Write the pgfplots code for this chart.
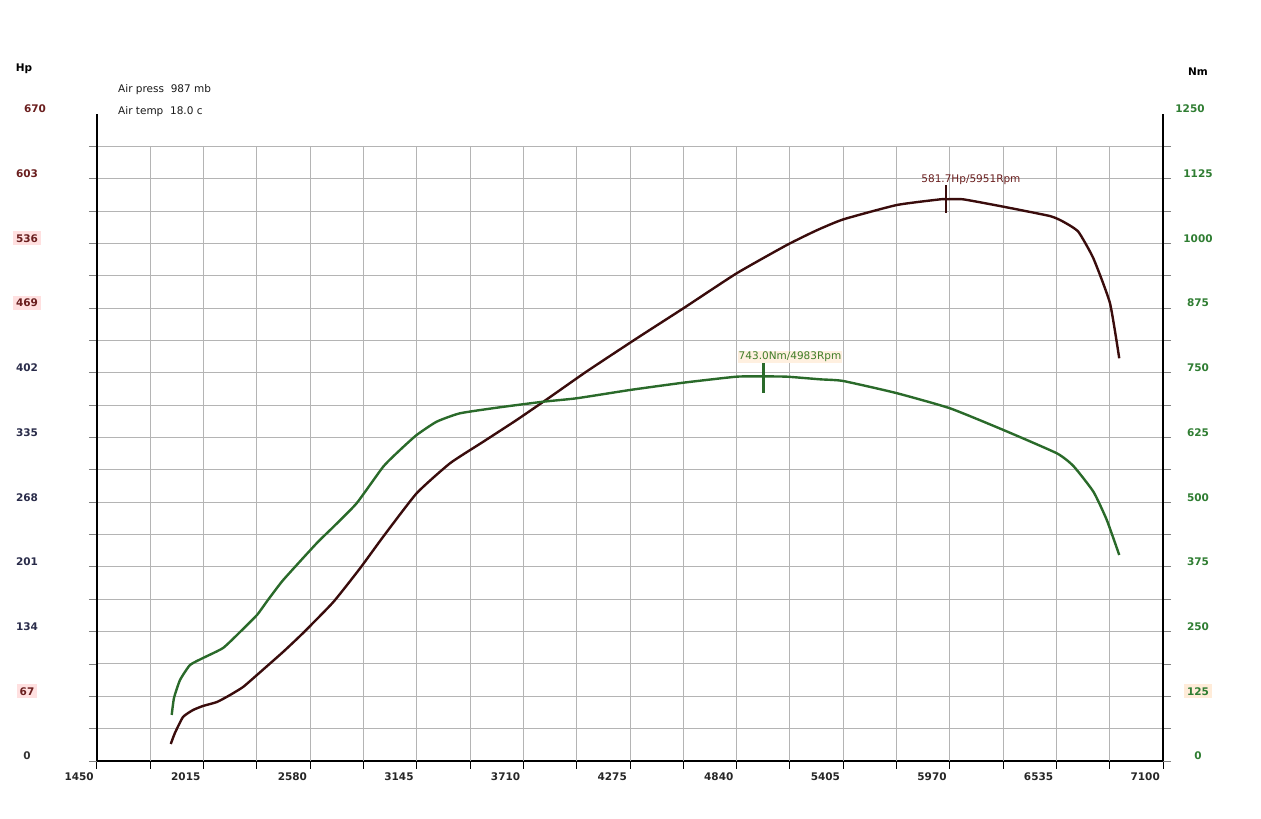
\documentclass[border=0pt]{standalone}
\usepackage{fontspec}
\setmainfont{DejaVu Sans}
\usepackage{pgfplots}
\pgfplotsset{compat=1.18}

\definecolor{hpline}{HTML}{3A0C0C}
\definecolor{hptext}{HTML}{6A1E1E}
\definecolor{navytext}{HTML}{2A2C4A}
\definecolor{nmline}{HTML}{2A6A2A}
\definecolor{nmtext}{HTML}{2F7D32}
\definecolor{gridc}{HTML}{B4B4B4}

% Hp curve (rpm, Hp)
\pgfplotstableread{
rpm hp
1841 17.6
1863 29.0
1906 45.6
1959 52.8
2012 57.0
2086 61.1
2155 68.3
2224 76.6
2298 89.1
2436 112.9
2542 132.5
2702 164.5
2844 199.5
2967 232.3
3144 277.2
3321 308.3
3497 330.6
3674 353.1
3842 375.6
4046 403.5
4311 437.7
4558 468.8
4840 505.0
5106 534.3
5264 549.5
5406 560.9
5688 575.7
5918 581.6
5951 581.7
6042 581.6
6254 574.0
6501 564.3
6572 558.4
6651 548.1
6731 520.5
6819 474.0
6868 417.0
}\hpdata

% torque curve (rpm, Nm)
\pgfplotstableread{
rpm nm
1846 88.9
1858 121.7
1890 156.5
1943 185.5
2012 199.0
2118 218.3
2208 249.2
2298 282.1
2356 311.1
2437 349.7
2614 420.6
2702 452.0
2826 497.9
2967 568.6
3056 600.9
3144 629.8
3250 655.5
3374 671.8
3586 683.4
3816 694.2
3993 700.8
4275 716.8
4558 730.9
4840 742.5
4983 743.0
5106 742.5
5282 737.4
5404 734.2
5685 711.0
5971 681.4
6254 639.5
6537 594.5
6625 569.9
6731 520.3
6802 465.6
6868 398.0
}\nmdata

\begin{document}
\begin{tikzpicture}[x=1pt,y=1pt]
\useasboundingbox (-97,-58) rectangle (1164,761);

\begin{axis}[
    at={(0,0)}, anchor=south west,
    scale only axis, width=1066pt, height=647pt,
    xmin=1450, xmax=7100, ymin=0, ymax=670,
    axis x line*=bottom, axis y line*=left,
    axis line style={line width=2.4pt, -},
    tick align=outside, major tick length=8pt,
    xtick={1450,1732.5,2015,2297.5,2580,2862.5,3145,3427.5,3710,3992.5,4275,4557.5,4840,5122.5,5405,5687.5,5970,6252.5,6535,6817.5,7100},
    xticklabels={1450,,2015,,2580,,3145,,3710,,4275,,4840,,5405,,5970,,6535,,7100},
    ytick={0,33.5,67,100.5,134,167.5,201,234.5,268,301.5,335,368.5,402,435.5,469,502.5,536,569.5,603,636.5},
    yticklabels={\textcolor{black!80}{0},,\colorbox{red!12}{\textcolor{hptext}{67}},,\textcolor{navytext}{134},,\textcolor{navytext}{201},,\textcolor{navytext}{268},,\textcolor{navytext}{335},,\textcolor{navytext}{402},,\colorbox{red!12}{\textcolor{hptext}{469}},,\colorbox{red!12}{\textcolor{hptext}{536}},,\textcolor{hptext}{603},},
    extra y ticks={670},
    extra y tick labels={\textcolor{hptext}{670}},
    extra y tick style={major tick length=0pt, grid=none},
    x tick style={black, line width=1pt},
    y tick style={gray, line width=0.8pt},
    ymajorgrids,
    major grid style={gridc, line width=0.9pt},
    ticklabel style={font=\bfseries\fontsize{10.5}{12}\selectfont, inner sep=0pt, fill=none},
    xticklabel style={anchor=east, xshift=-3pt, yshift=-8pt, text=black!85},
    yticklabel style={anchor=center, xshift=-62pt, yshift=5pt},
    clip=false,
]
\pgfplotsinvokeforeach{1732.5,2015,2297.5,2580,2862.5,3145,3427.5,3710,3992.5,4275,4557.5,4840,5122.5,5405,5687.5,5970,6252.5,6535,6817.5}{
  \draw[gridc, line width=0.9pt] (axis cs:#1,0) -- (axis cs:#1,636.5);
}
\addplot[hpline, line width=2.4pt, smooth, tension=0.3] table[x=rpm, y=hp] {\hpdata};
% peak marker
\addplot[hpline, line width=1.8pt] coordinates {(5951,567.5) (5951,596.4)};
\node[text=hptext, font=\fontsize{10.5}{12}\selectfont] at (axis cs:6082,601.6) {581.7Hp/5951Rpm};
\end{axis}

\begin{axis}[
    at={(0,0)}, anchor=south west,
    scale only axis, width=1066pt, height=647pt,
    xmin=1450, xmax=7100, ymin=0, ymax=1250,
    axis x line=none, axis y line*=right,
    axis line style={line width=2.4pt, -},
    tick align=outside, major tick length=8pt,
    ytick={0,62.5,125,187.5,250,312.5,375,437.5,500,562.5,625,687.5,750,812.5,875,937.5,1000,1062.5,1125,1187.5},
    yticklabels={0,,\colorbox{orange!15}{125},,250,,375,,500,,625,,750,,875,,1000,,1125,},
    extra y ticks={1250},
    extra y tick labels={1250},
    extra y tick style={major tick length=0pt},
    y tick style={gray, line width=0.8pt},
    ticklabel style={font=\bfseries\fontsize{10.5}{12}\selectfont, inner sep=0pt, text=nmtext},
    yticklabel style={anchor=center, xshift=27pt, yshift=5pt},
    clip=false,
]
\addplot[nmline, line width=2.4pt, smooth, tension=0.3] table[x=rpm, y=nm] {\nmdata};
% peak marker
\addplot[nmline, line width=2.4pt] coordinates {(4983,711.6) (4983,771.4)};
\node[text=nmtext!80!olive, fill=orange!12, inner sep=1pt, font=\fontsize{10.5}{12}\selectfont] at (axis cs:5123,780.5) {743.0Nm/4983Rpm};
\end{axis}

\node[font=\bfseries\fontsize{10.5}{12}\selectfont] at (-73,692) {Hp};
\node[font=\bfseries\fontsize{10.5}{12}\selectfont] at (1101,689) {Nm};
\node[anchor=west, inner sep=0pt, text=black!90, font=\fontsize{10.5}{12}\selectfont] at (21,671) {Air press\ \ 987 mb};
\node[anchor=west, inner sep=0pt, text=black!90, font=\fontsize{10.5}{12}\selectfont] at (21,649) {Air temp\ \ 18.0 c};
\end{tikzpicture}
\end{document}
